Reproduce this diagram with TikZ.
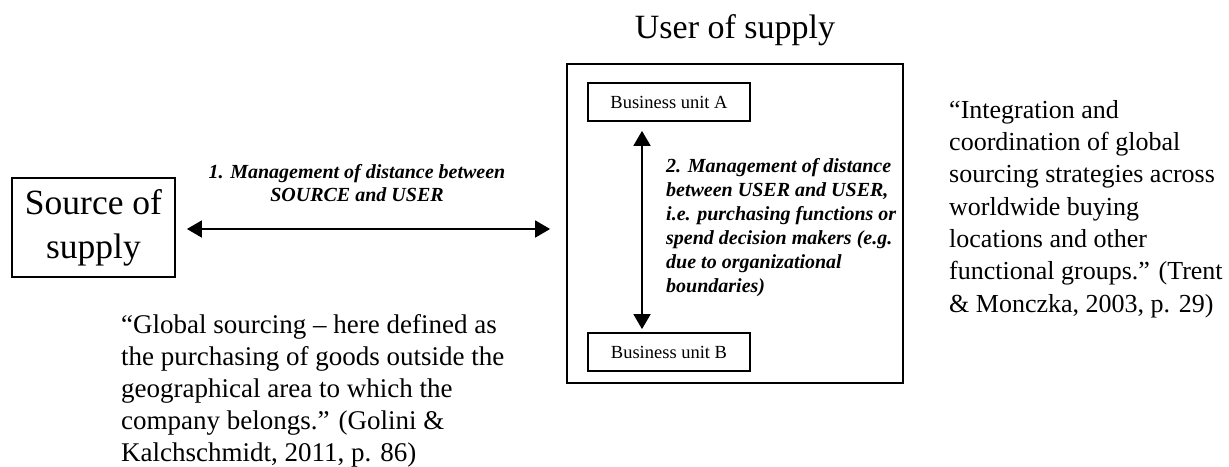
\documentclass[tikz,border=0pt]{standalone}
\usepackage{fontspec}
\setmainfont{Liberation Serif}
\usetikzlibrary{arrows.meta,positioning}
\def\fs#1#2{\fontsize{#1}{#2}\selectfont}

\begin{document}
\begin{tikzpicture}[x=1pt,y=-1pt,
		box/.style={draw, line width=1.8pt, inner sep=0pt},
		dbl/.style={line width=1.8pt, {Triangle[length=15pt,width=17pt]}-{Triangle[length=15pt,width=17pt]}},
		lbl/.style={font=\fs{20}{23}\bfseries\itshape, inner sep=0pt}]
			%%%%% START %%%%%
			\useasboundingbox (0, 0) rectangle (1229, 466);
			
			\node[box, minimum width=163pt, minimum height=99pt, align=center, font=\fs{35.5}{44}] (source) at (93.5, 227.5) {Source of\\supply};
			
			\node[box, minimum width=336pt, minimum height=319pt] (usr) at (735, 223.5) {};
			\node[font=\fs{34}{38}] (title) at (735, 30) {User of supply};
			
			\node[box, minimum width=162pt, minimum height=38pt, font=\fs{18.5}{20}] (unitA) at (669, 102) {Business unit A};
			\node[box, minimum width=162pt, minimum height=38pt, font=\fs{18.5}{20}] (unitB) at (669, 352) {Business unit B};
			
			\draw[dbl, shorten <=11pt, shorten >=16pt] ([yshift=-1.5pt]source.east) -- ([yshift=-1.5pt]source.east -| usr.west);
			\node[lbl, align=center] (dist1) at (357, 183) {1. Management of distance between\\SOURCE and USER};
			
			\draw[dbl, shorten <=9pt, shorten >=3pt] ([xshift=-27pt]unitA.south) -- ([xshift=-27pt]unitB.north);
			\node[lbl, align=left, anchor=west, font=\fs{20}{24}\bfseries\itshape] (dist2) at (666, 228) {2. Management of distance\\between USER and USER,\\i.e. purchasing functions or\\spend decision makers (e.g.\\due to organizational\\boundaries)};
			
			\node[align=left, anchor=west, inner sep=0pt, font=\fs{27}{32}] (quote1) at (121, 391) {``Global sourcing -- here defined as\\the purchasing of goods outside the\\geographical area to which the\\company belongs.'' (Golini \&\\Kalchschmidt, 2011, p. 86)};
			
			\node[align=left, anchor=west, inner sep=0pt, font=\fs{26}{32.3}] (quote2) at (949, 209) {``Integration and\\coordination of global\\sourcing strategies across\\worldwide buying\\locations and other\\functional groups.'' (Trent\\\& Monczka, 2003, p. 29)};
			
			%%%%% END %%%%%
		\end{tikzpicture}
\end{document}
